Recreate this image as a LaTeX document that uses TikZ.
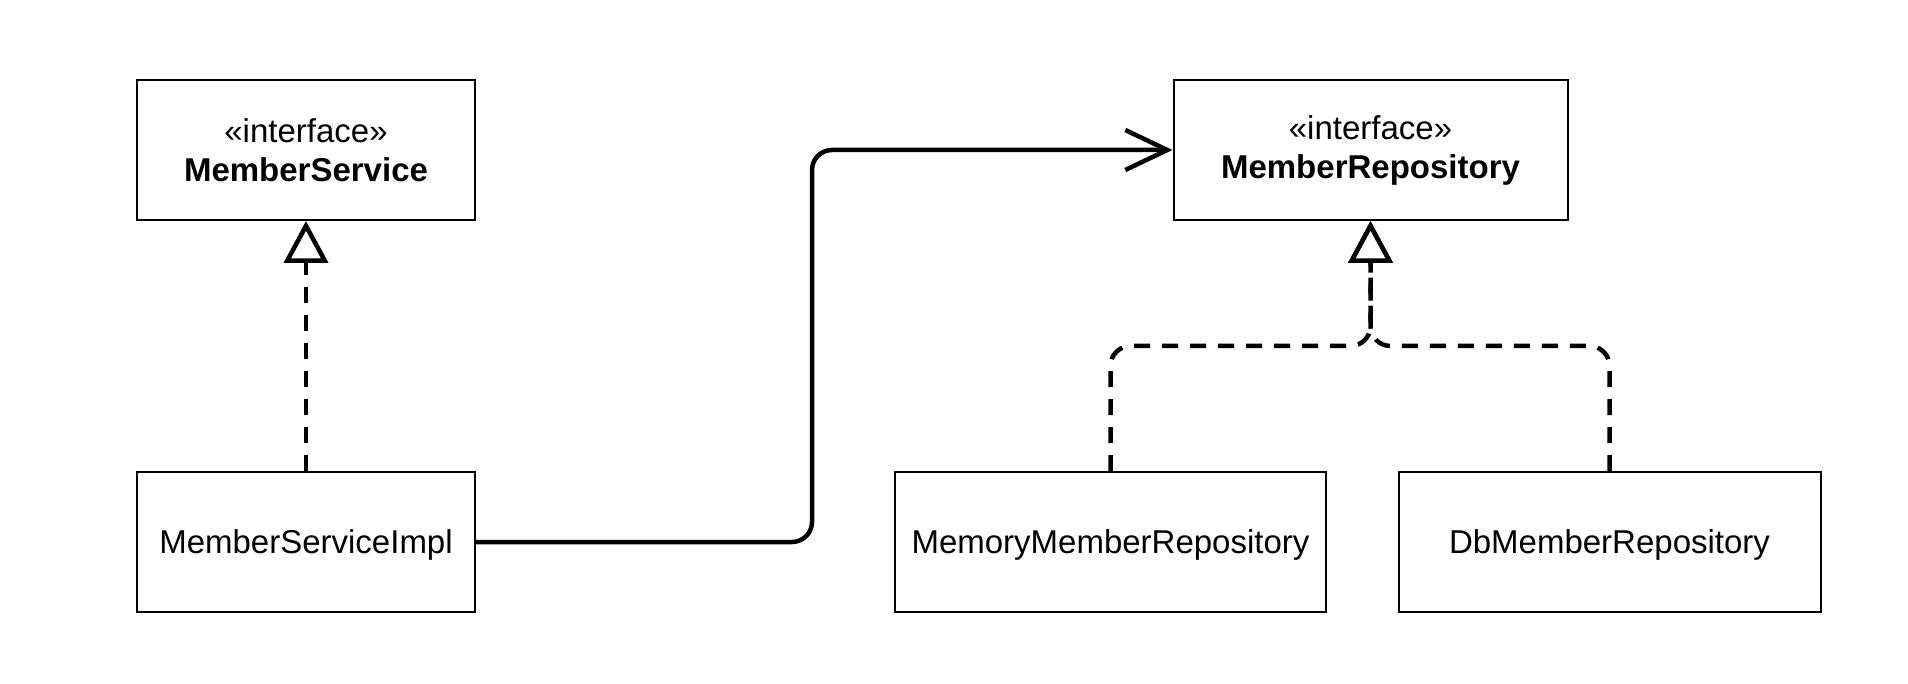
\documentclass[tikz,border=0pt]{standalone}
\usepackage{fontspec}
\setmainfont{Liberation Sans}
\usetikzlibrary{arrows.meta}
\tikzset{
  cls/.style={draw=black, line width=2pt, rectangle, inner sep=0pt, minimum height=140pt, align=center, font=\fontsize{33}{39}\selectfont, fill=white},
  single/.style={text height=23pt, text depth=0pt},
  conn/.style={draw=black, line width=4.5pt, rounded corners=20pt},
  realize/.style={conn, dash pattern=on 16pt off 12pt, -{Triangle[length=42pt, width=44pt, fill=white, line width=4.5pt]}},
  assoc/.style={conn, -{Straight Barb[length=42pt, width=40pt, line width=4.5pt]}}
}
\begin{document}
\begin{tikzpicture}[x=1pt, y=-1pt]
\useasboundingbox (0,0) rectangle (1908,684);
\node[cls, minimum width=338pt] (ms) at (306,150) {«interface»\\\textbf{MemberService}};
\node[cls, single, minimum width=338pt] (impl) at (306,542) {MemberServiceImpl};
\node[cls, minimum width=394pt] (mr) at (1370.5,150) {«interface»\\\textbf{MemberRepository}};
\node[cls, single, minimum width=431pt] (mem) at (1110.5,542) {MemoryMemberRepository};
\node[cls, single, minimum width=422pt] (db) at (1609.5,542) {DbMemberRepository};
\coordinate (bend) at (812,542);
\coordinate (j) at (1370.5,346);
\draw[realize] (impl.north) -- (ms.south);
\draw[realize] (mem.north) |- (j) -- (mr.south);
\draw[realize] (db.north) |- (j) -- (mr.south);
\draw[assoc] (impl.east) -| (bend |- mr.west) -- (mr.west);
\end{tikzpicture}
\end{document}
